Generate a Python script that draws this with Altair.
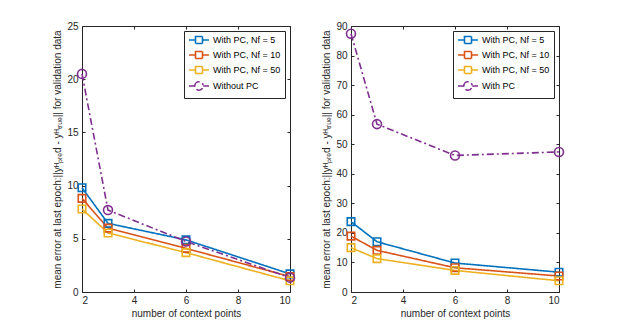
import altair as alt
import pandas as pd

x_vals = [2, 3, 6, 10]

left_labels = ["With PC, Nf = 5", "With PC, Nf = 10", "With PC, Nf = 50", "Without PC"]
left_n5 = [9.8, 6.45, 4.9, 1.7]
left_n10 = [8.8, 6.0, 4.1, 1.45]
left_n50 = [7.8, 5.55, 3.7, 1.05]
left_nopc = [20.5, 7.7, 4.75, 1.35]

right_labels = ["With PC, Nf = 5", "With PC, Nf = 10", "With PC, Nf = 50", "With PC"]
right_n5 = [23.8, 17.0, 9.8, 6.7]
right_n10 = [18.9, 14.1, 8.2, 5.4]
right_n50 = [15.0, 11.3, 7.3, 3.8]
right_pc = [87.4, 56.8, 46.2, 47.4]

colors = ["#0072BD", "#D95319", "#EDB120", "#7E2F8E"]
markers = ["square", "square", "square", "circle"]
dashes = [[1, 0], [1, 0], [1, 0], [7, 3, 2, 3]]

SQ = "M-1,0H0.625M2.375,0H4.0M0.625,-0.875H2.375V0.875H0.625Z"
CI = "M-1,0H0.45M2.55,0H4.0M0.45,0A1.05,1.05,0,1,1,2.55,0A1.05,1.05,0,1,1,0.45,0Z"
legend_paths = [SQ, SQ, SQ, CI]

ytitle = "mean error at last epoch:||yᴴₚᵣₑd - yᴴₜᵣᵤₑ|| for validation data"
AX = "#262626"


def make_df(labels, series):
    rows = []
    for lab, mk, vals in zip(labels, markers, series):
        for xv, yv in zip(x_vals, vals):
            rows.append({"ctx": xv, "err": yv, "series": lab, "marker": mk})
    return pd.DataFrame(rows)


def panel(labels, series, ymax, ystep):
    df = make_df(labels, series)
    yvals = list(range(0, ymax + 1, ystep))
    xsc = alt.Scale(domain=[2, 10], nice=False, zero=False)
    ysc = alt.Scale(domain=[0, ymax], nice=False)
    csc = alt.Scale(domain=labels, range=colors)
    dsc = alt.Scale(domain=labels, range=dashes)
    shsc = alt.Scale(domain=labels, range=legend_paths)
    leg = alt.Legend(title=None, orient="top-right", offset=5, symbolSize=64,
                     symbolStrokeWidth=1.6, labelFontSize=9, labelColor="#000000",
                     fillColor="#ffffff", strokeColor="#262626", padding=4,
                     rowPadding=1, labelOffset=15, symbolOpacity=1,
                     symbolFillColor="transparent")
    base = alt.Chart(df)

    lines = base.mark_line(strokeWidth=1.6).encode(
        x=alt.X("ctx:Q", scale=xsc,
                axis=alt.Axis(values=[2, 4, 6, 8, 10], title="number of context points",
                              orient="bottom", offset=-3, tickSize=3, domain=False,
                              grid=False, labelPadding=3, titlePadding=3)),
        y=alt.Y("err:Q", scale=ysc,
                axis=alt.Axis(values=yvals, title=ytitle, orient="left", offset=-3,
                              tickSize=3, domain=False, grid=False, labelPadding=4,
                              titlePadding=4)),
        color=alt.Color("series:N", scale=csc, legend=leg),
        strokeDash=alt.StrokeDash("series:N", scale=dsc, legend=leg),
        detail="series:N",
    )
    sq = base.transform_filter("datum.marker == 'square'").mark_point(
        shape="square", filled=False, size=56, strokeWidth=1.6, opacity=1
    ).encode(
        x=alt.X("ctx:Q", scale=xsc,
                axis=alt.Axis(values=[2, 4, 6, 8, 10], title=None, orient="top",
                              offset=-3, tickSize=3, labels=False, domain=False, grid=False)),
        y=alt.Y("err:Q", scale=ysc,
                axis=alt.Axis(values=yvals, title=None, orient="right", offset=-3,
                              tickSize=3, labels=False, domain=False, grid=False)),
        color=alt.Color("series:N", scale=csc, legend=leg),
    )
    ci = base.transform_filter("datum.marker == 'circle'").mark_point(
        shape="circle", filled=False, size=80, strokeWidth=1.6, opacity=1
    ).encode(
        x=alt.X("ctx:Q", scale=xsc, axis=None),
        y=alt.Y("err:Q", scale=ysc, axis=None),
        color=alt.Color("series:N", scale=csc, legend=leg),
    )
    lg = base.transform_filter("false").mark_point(filled=False, size=64).encode(
        x=alt.X("ctx:Q", scale=xsc, axis=None),
        y=alt.Y("err:Q", scale=ysc, axis=None),
        color=alt.Color("series:N", scale=csc, legend=leg),
        shape=alt.Shape("series:N", scale=shsc, legend=leg),
        strokeDash=alt.StrokeDash("series:N", scale=dsc, legend=leg),
    )
    return alt.layer(lines, sq, ci, lg).resolve_axis(x="independent", y="independent").properties(
        width=208, height=266
    )


left = panel(left_labels, [left_n5, left_n10, left_n50, left_nopc], 25, 5)
right = panel(right_labels, [right_n5, right_n10, right_n50, right_pc], 90, 10)

chart = alt.hconcat(left, right, spacing=22).resolve_scale(
    color="independent", shape="independent", strokeDash="independent"
).resolve_legend(color="independent", shape="independent", strokeDash="independent").properties(
    padding={"left": 44, "top": 12, "right": 5, "bottom": 5}
).configure_view(stroke=AX, strokeWidth=1).configure_axis(
    labelFont="Liberation Sans", titleFont="Liberation Sans", labelFontSize=10,
    titleFontSize=10, labelColor=AX, titleColor=AX, tickColor=AX, titleFontWeight="normal"
).configure_legend(labelFont="Liberation Sans")

chart.save("out.html", embed_options={"renderer": "svg", "actions": False})
